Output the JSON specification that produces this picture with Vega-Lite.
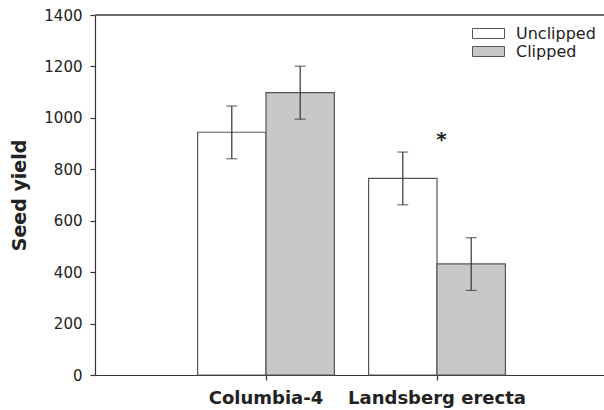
{
  "$schema": "https://vega.github.io/schema/vega-lite/v6.json",
  "autosize": "none",
  "padding": {"left": 95, "top": 15, "right": 0, "bottom": 35},
  "width": 513,
  "height": 360,
  "background": "white",
  "config": {
    "view": {"stroke": null},
    "font": "DejaVu Sans",
    "axis": {"grid": false, "domainColor": "#333", "tickColor": "#333", "labelColor": "#222", "titleColor": "#222", "tickSize": 5, "domainWidth": 1.2, "tickWidth": 1.2}
  },
  "data": {
    "values": [
      {"cultivar": "Columbia-4", "treatment": "Unclipped", "yield": 944, "lower": 841, "upper": 1046},
      {"cultivar": "Columbia-4", "treatment": "Clipped", "yield": 1098, "lower": 995, "upper": 1201},
      {"cultivar": "Landsberg erecta", "treatment": "Unclipped", "yield": 765, "lower": 662, "upper": 867},
      {"cultivar": "Landsberg erecta", "treatment": "Clipped", "yield": 432, "lower": 329, "upper": 534}
    ]
  },
  "encoding": {
    "x": {
      "field": "cultivar", "type": "nominal", "sort": null,
      "scale": {"paddingInner": 0.2, "paddingOuter": 0.6},
      "axis": {"title": null, "labelAngle": 0, "labelFont": "DejaVu Sans", "labelFontWeight": "bold", "labelFontSize": 18, "labelPadding": 9}
    },
    "xOffset": {"field": "treatment", "type": "nominal", "sort": ["Unclipped", "Clipped"], "scale": {"paddingInner": 0, "paddingOuter": 0}}
  },
  "layer": [
    {
      "mark": {"type": "bar", "stroke": "#555", "strokeWidth": 1.2},
      "encoding": {
        "y": {
          "field": "yield", "type": "quantitative",
          "scale": {"domain": [0, 1400], "nice": false},
          "axis": {"values": [0, 200, 400, 600, 800, 1000, 1200, 1400], "format": "d", "title": "Seed yield", "titleFont": "DejaVu Sans", "titleFontWeight": "bold", "titleFontSize": 19, "titlePadding": 14, "labelFont": "DejaVu Sans", "labelFontSize": 15, "labelPadding": 8}
        },
        "fill": {
          "field": "treatment", "type": "nominal", "sort": ["Unclipped", "Clipped"],
          "scale": {"domain": ["Unclipped", "Clipped"], "range": ["#ffffff", "#c8c8ca"]},
          "legend": {
            "title": null, "orient": "none", "legendX": 385, "legendY": 10, "padding": 0,
            "symbolType": "M-2,-0.625H2V0.625H-2Z", "symbolSize": 256, "symbolStrokeColor": "#555", "symbolStrokeWidth": 1,
            "symbolOpacity": 1,
            "labelFont": "DejaVu Sans", "labelFontSize": 16, "labelColor": "#222", "labelOffset": 19, "rowPadding": 1
          }
        }
      }
    },
    {
      "mark": {"type": "rule", "color": "#333", "strokeWidth": 1.2},
      "encoding": {
        "y": {"field": "lower", "type": "quantitative"},
        "y2": {"field": "upper"}
      }
    },
    {
      "mark": {"type": "tick", "orient": "horizontal", "color": "#333", "size": 11, "thickness": 1.2},
      "encoding": {"y": {"field": "lower", "type": "quantitative"}}
    },
    {
      "mark": {"type": "tick", "orient": "horizontal", "color": "#333", "size": 11, "thickness": 1.2},
      "encoding": {"y": {"field": "upper", "type": "quantitative"}}
    },
    {
      "data": {"values": [{"cultivar": "Landsberg erecta", "label": "*", "pos": 912}]},
      "mark": {"type": "text", "font": "DejaVu Sans", "fontWeight": "bold", "fontSize": 20, "dx": 73, "baseline": "middle", "color": "#222"},
      "encoding": {
        "x": {"field": "cultivar", "type": "nominal"},
        "xOffset": {"value": 0},
        "y": {"field": "pos", "type": "quantitative"},
        "text": {"field": "label"}
      }
    },
    {
      "mark": {"type": "rule", "color": "#666", "strokeWidth": 1.2},
      "encoding": {"y": {"datum": 1400}, "x": {"value": 0}, "x2": {"value": 513}, "xOffset": {"value": 0}}
    }
  ]
}
